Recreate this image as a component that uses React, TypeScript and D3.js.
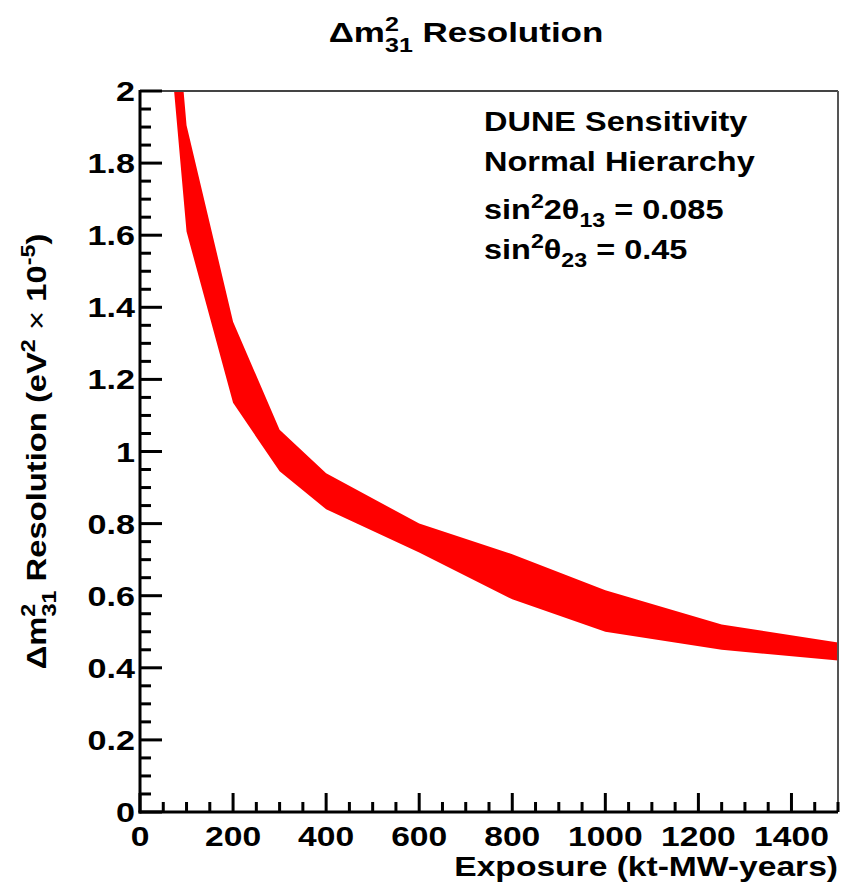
import React from "react"
import { scaleLinear, area, range } from "d3"

// exposure points (kt-MW-years) and the band edges
const exposure = [50, 100, 200, 300, 400, 600, 800, 1000, 1250, 1500]
const upper = [2.65, 1.905, 1.36, 1.06, 0.94, 0.8, 0.715, 0.615, 0.52, 0.47]
const lower = [2.34, 1.61, 1.135, 0.945, 0.84, 0.72, 0.59, 0.5, 0.45, 0.42]

const xMajor = range(0, 1501, 200)
const xMinor = range(0, 1501, 50).filter((v) => v % 200 !== 0)
const yMajor = range(0, 11).map((i) => i * 0.2)
const yMinor = range(0, 41).map((i) => i * 0.05).filter((_, i) => i % 4 !== 0)

const font = "'Liberation Sans', Arial, Helvetica, sans-serif"
// the original text is wider than Liberation Sans at the same height
const SX = 1.2

const App = () => {
  const width = 841
  const height = 888
  const left = 140
  const right = 838
  const top = 91
  const bottom = 812

  const x = scaleLinear().domain([0, 1500]).range([left, right])
  const y = scaleLinear().domain([0, 2]).range([bottom, top])

  const rows = exposure.map((e, i) => ({ e, hi: upper[i], lo: lower[i] }))
  const band = area<{ e: number; hi: number; lo: number }>()
    .x((d) => x(d.e))
    .y0((d) => y(d.lo))
    .y1((d) => y(d.hi))

  const fmt = (v: number) => String(+v.toFixed(1))
  const at = (px: number, py: number, sx = SX) => `translate(${px},${py}) scale(${sx},1)`

  return (
    <svg
      width={width}
      height={height}
      style={{ position: "absolute", left: 0, top: 0, background: "#fff" }}
      fontFamily={font}
      fontWeight="bold"
    >
      <rect width={width} height={height} fill="#fff" />
      <defs>
        <clipPath id="plot">
          <rect x={left} y={top} width={right - left} height={bottom - top} />
        </clipPath>
      </defs>

      {/* title */}
      <g transform={at(466, 42, 1.25)}>
        <text fontSize={28} textAnchor="middle">
          Δm
          <tspan fontSize={20} dy={-11}>2</tspan>
          <tspan fontSize={20} dx={-11} dy={21}>31</tspan>
          <tspan dy={-10}> Resolution</tspan>
        </text>
      </g>

      <path d={band(rows) ?? ""} fill="#ff0000" clipPath="url(#plot)" />

      {/* frame */}
      <line x1={left} x2={right} y1={top} y2={top} stroke="#444" strokeWidth={2} />
      <line x1={right} x2={right} y1={top} y2={bottom} stroke="#555" strokeWidth={2} />

      {/* y axis */}
      {yMinor.map((v) => (
        <line key={"ym" + v} x1={left} x2={left + 11} y1={y(v)} y2={y(v)} stroke="#000" strokeWidth={3} />
      ))}
      {yMajor.map((v) => (
        <g key={"yM" + v}>
          <line x1={left} x2={left + 22} y1={y(v)} y2={y(v)} stroke="#000" strokeWidth={3} />
          <g transform={at(135, y(v), 1.22)}>
            <text dy="0.36em" fontSize={28} textAnchor="end">
              {fmt(v)}
            </text>
          </g>
        </g>
      ))}
      <line x1={left} x2={left} y1={top - 1} y2={bottom + 1.5} stroke="#000" strokeWidth={3} />

      {/* x axis */}
      {xMinor.map((v) => (
        <line key={"xm" + v} x1={x(v)} x2={x(v)} y1={bottom} y2={bottom - 10} stroke="#000" strokeWidth={3} />
      ))}
      {xMajor.map((v) => (
        <g key={"xM" + v}>
          <line x1={x(v)} x2={x(v)} y1={bottom} y2={bottom - 19} stroke="#000" strokeWidth={3} />
          <g transform={at(x(v), 846)}>
            <text fontSize={28} textAnchor="middle">
              {v}
            </text>
          </g>
        </g>
      ))}
      <line x1={left - 1.5} x2={right} y1={bottom} y2={bottom} stroke="#000" strokeWidth={3} />

      <g transform={at(right, 876)}>
        <text fontSize={28} textAnchor="end">
          Exposure (kt-MW-years)
        </text>
      </g>

      {/* y title */}
      <g transform={`translate(46, ${(top + bottom) / 2}) rotate(-90) scale(1.17,1)`}>
        <text fontSize={28} textAnchor="middle">
          Δm
          <tspan fontSize={20} dy={-11}>2</tspan>
          <tspan fontSize={20} dx={-11} dy={21}>31</tspan>
          <tspan dy={-10}> Resolution (eV</tspan>
          <tspan fontSize={20} dy={-11}>2</tspan>
          <tspan dy={11} fontWeight="normal"> × </tspan>
          <tspan>10</tspan>
          <tspan fontSize={20} dy={-11}>-5</tspan>
          <tspan dy={11}>)</tspan>
        </text>
      </g>

      {/* legend */}
      <g fontSize={28}>
        <g transform={at(484, 131, 1.16)}>
          <text>DUNE Sensitivity</text>
        </g>
        <g transform={at(484, 171, 1.16)}>
          <text>Normal Hierarchy</text>
        </g>
        <g transform={at(484, 219, 1.16)}>
          <text>
            sin
            <tspan fontSize={20} dy={-11}>2</tspan>
            <tspan dy={11}>2θ</tspan>
            <tspan fontSize={20} dy={8}>13</tspan>
            <tspan dy={-8}> = 0.085</tspan>
          </text>
        </g>
        <g transform={at(484, 259, 1.16)}>
          <text>
            sin
            <tspan fontSize={20} dy={-11}>2</tspan>
            <tspan dy={11}>θ</tspan>
            <tspan fontSize={20} dy={8}>23</tspan>
            <tspan dy={-8}> = 0.45</tspan>
          </text>
        </g>
      </g>
    </svg>
  )
}

export default App
